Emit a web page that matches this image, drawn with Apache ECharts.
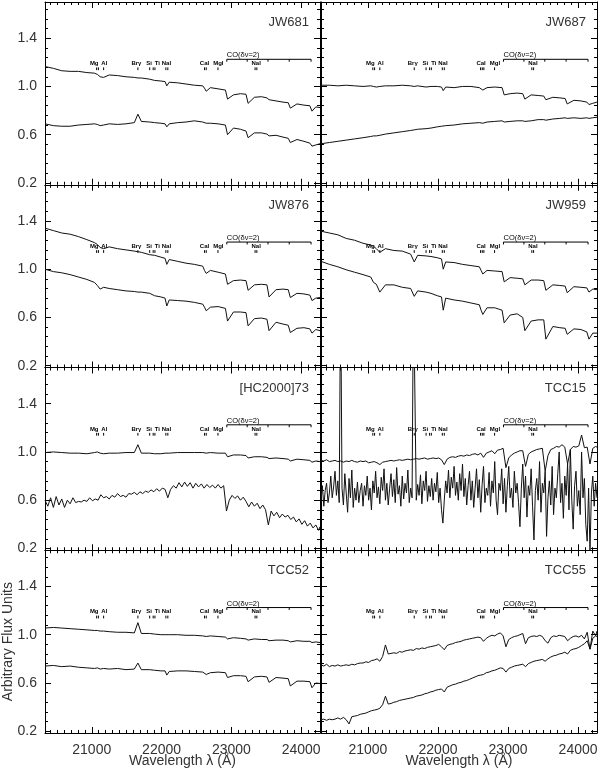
<!DOCTYPE html>
<html>
<head>
<meta charset="utf-8">
<script src="https://cdn.jsdelivr.net/npm/echarts@6/dist/echarts.min.js"></script>
<style>
  html, body { margin: 0; padding: 0; background: #fff; }
  #chart { width: 600px; height: 771px; }
</style>
</head>
<body>
<div id="chart"></div>
<script>
// wavelength grids (Angstrom)
const wl = [20330, 20450, 20570, 20690, 20810, 20930, 21040, 21080, 21120, 21170,
  21250, 21370, 21490, 21610, 21661, 21710, 21830, 21900, 21990, 22050,
  22075, 22110, 22230, 22350, 22470, 22590, 22615, 22640, 22700, 22810,
  22915, 22945, 23030, 23130, 23210, 23240, 23330, 23430, 23510, 23540,
  23640, 23740, 23815, 23845, 23940, 24040, 24125, 24155, 24210, 24270]
const wlDense = [20330, 20370, 20410, 20450, 20490, 20530, 20570, 20610, 20650, 20690,
  20730, 20770, 20810, 20850, 20890, 20930, 20970, 21010, 21050, 21090,
  21130, 21170, 21210, 21250, 21290, 21330, 21370, 21410, 21450, 21490,
  21530, 21570, 21610, 21650, 21690, 21730, 21770, 21810, 21850, 21890,
  21930, 21970, 22010, 22050, 22090, 22130, 22170, 22210, 22250, 22290,
  22330, 22370, 22410, 22450, 22490, 22530, 22570, 22610, 22650, 22690,
  22730, 22770, 22810, 22850, 22890, 22930, 22970, 23010, 23050, 23090,
  23130, 23170, 23210, 23250, 23290, 23330, 23370, 23410, 23450, 23490,
  23530, 23570, 23610, 23650, 23690, 23730, 23770, 23810, 23850, 23890,
  23930, 23970, 24010, 24050, 24090, 24130, 24170, 24210, 24250, 24270]
const wlFine = [20330, 20350, 20370, 20390, 20410, 20430, 20450, 20470, 20490, 20510,
  20530, 20550, 20570, 20590, 20610, 20630, 20650, 20670, 20690, 20710,
  20730, 20750, 20770, 20790, 20810, 20830, 20850, 20870, 20890, 20910,
  20930, 20950, 20970, 20990, 21010, 21030, 21050, 21070, 21090, 21110,
  21130, 21150, 21170, 21190, 21210, 21230, 21250, 21270, 21290, 21310,
  21330, 21350, 21370, 21390, 21410, 21430, 21450, 21470, 21490, 21510,
  21530, 21550, 21570, 21590, 21610, 21630, 21650, 21670, 21690, 21710,
  21730, 21750, 21770, 21790, 21810, 21830, 21850, 21870, 21890, 21910,
  21930, 21950, 21970, 21990, 22010, 22030, 22050, 22070, 22090, 22110,
  22130, 22150, 22170, 22190, 22210, 22230, 22250, 22270, 22290, 22310,
  22330, 22350, 22370, 22390, 22410, 22430, 22450, 22470, 22490, 22510,
  22530, 22550, 22570, 22590, 22610, 22630, 22650, 22670, 22690, 22710,
  22730, 22750, 22770, 22790, 22810, 22830, 22850, 22870, 22890, 22910,
  22930, 22950, 22970, 22990, 23010, 23030, 23050, 23070, 23090, 23110,
  23130, 23150, 23170, 23190, 23210, 23230, 23250, 23270, 23290, 23310,
  23330, 23350, 23370, 23390, 23410, 23430, 23450, 23470, 23490, 23510,
  23530, 23550, 23570, 23590, 23610, 23630, 23650, 23670, 23690, 23710,
  23730, 23750, 23770, 23790, 23810, 23830, 23850, 23870, 23890, 23910,
  23930, 23950, 23970, 23990, 24010, 24030, 24050, 24070, 24090, 24110,
  24130, 24150, 24170, 24190, 24210, 24230, 24250, 24270]

// fluxes on wl
const jw681Top = [1.165, 1.15, 1.13, 1.125, 1.125, 1.115, 1.11, 1.10, 1.08, 1.075,
  1.095, 1.09, 1.08, 1.075, 1.07, 1.07, 1.06, 1.05, 1.045, 1.04,
  1.005, 1.035, 1.03, 1.02, 1.01, 1.005, 0.985, 0.96, 0.99, 0.98,
  0.97, 0.895, 0.93, 0.94, 0.935, 0.86, 0.91, 0.915, 0.905, 0.89,
  0.88, 0.87, 0.865, 0.82, 0.855, 0.845, 0.84, 0.795, 0.83, 0.825]
const jw681Bot = [0.69, 0.675, 0.67, 0.67, 0.68, 0.685, 0.69, 0.685, 0.675, 0.68,
  0.69, 0.685, 0.69, 0.70, 0.77, 0.71, 0.705, 0.70, 0.695, 0.69,
  0.665, 0.69, 0.70, 0.705, 0.715, 0.705, 0.70, 0.695, 0.695, 0.69,
  0.68, 0.60, 0.655, 0.645, 0.63, 0.575, 0.615, 0.615, 0.605, 0.59,
  0.595, 0.58, 0.57, 0.535, 0.56, 0.545, 0.53, 0.505, 0.515, 0.525]
const jw687Top = [1.01, 1.01, 1.005, 1.01, 1.005, 1.0, 1.005, 1.0, 0.995, 1.0,
  1.005, 1.005, 1.01, 1.005, 1.0, 1.005, 0.995, 1.0, 1.0, 0.995,
  0.965, 0.995, 0.99, 1.0, 1.0, 0.99, 0.98, 0.97, 0.99, 0.995,
  0.99, 0.93, 0.94, 0.945, 0.94, 0.895, 0.93, 0.925, 0.92, 0.89,
  0.91, 0.905, 0.9, 0.855, 0.885, 0.88, 0.87, 0.85, 0.86, 0.87]
const jw687Bot = [0.525, 0.535, 0.545, 0.555, 0.565, 0.575, 0.585, 0.59, 0.59, 0.595,
  0.605, 0.615, 0.625, 0.635, 0.64, 0.645, 0.65, 0.655, 0.665, 0.67,
  0.665, 0.675, 0.68, 0.69, 0.695, 0.70, 0.70, 0.695, 0.705, 0.71,
  0.715, 0.705, 0.71, 0.715, 0.715, 0.71, 0.715, 0.725, 0.725, 0.72,
  0.73, 0.735, 0.74, 0.735, 0.74, 0.735, 0.74, 0.735, 0.74, 0.745]
const jw876Top = [1.34, 1.32, 1.30, 1.29, 1.27, 1.245, 1.22, 1.205, 1.18, 1.17,
  1.185, 1.17, 1.16, 1.15, 1.145, 1.14, 1.12, 1.115, 1.10, 1.09,
  1.04, 1.08, 1.065, 1.05, 1.04, 1.025, 0.99, 0.965, 0.99, 0.975,
  0.96, 0.875, 0.905, 0.91, 0.905, 0.825, 0.87, 0.875, 0.87, 0.77,
  0.83, 0.835, 0.83, 0.765, 0.80, 0.795, 0.785, 0.74, 0.76, 0.765]
const jw876Bot = [1.0, 0.98, 0.97, 0.955, 0.935, 0.915, 0.89, 0.865, 0.835, 0.85,
  0.84, 0.83, 0.82, 0.815, 0.81, 0.81, 0.80, 0.78, 0.77, 0.76,
  0.695, 0.745, 0.74, 0.735, 0.725, 0.71, 0.685, 0.655, 0.685, 0.69,
  0.675, 0.57, 0.645, 0.645, 0.64, 0.53, 0.59, 0.595, 0.585, 0.49,
  0.56, 0.545, 0.535, 0.475, 0.51, 0.515, 0.505, 0.47, 0.50, 0.49]
const jw959Top = [1.315, 1.30, 1.285, 1.255, 1.24, 1.215, 1.20, 1.19, 1.17, 1.14,
  1.17, 1.155, 1.15, 1.125, 1.06, 1.115, 1.11, 1.105, 1.095, 1.085,
  1.0, 1.06, 1.055, 1.04, 1.03, 1.02, 0.99, 0.96, 0.99, 0.985,
  0.98, 0.895, 0.93, 0.925, 0.92, 0.87, 0.91, 0.91, 0.905, 0.825,
  0.87, 0.865, 0.86, 0.805, 0.855, 0.85, 0.845, 0.81, 0.835, 0.83]
const jw959Bot = [1.065, 1.04, 1.02, 0.995, 0.975, 0.955, 0.935, 0.89, 0.875, 0.81,
  0.87, 0.87, 0.85, 0.84, 0.775, 0.82, 0.81, 0.80, 0.78, 0.77,
  0.66, 0.76, 0.745, 0.735, 0.72, 0.705, 0.66, 0.625, 0.68, 0.68,
  0.66, 0.555, 0.62, 0.63, 0.60, 0.49, 0.57, 0.58, 0.58, 0.42,
  0.525, 0.515, 0.51, 0.46, 0.505, 0.50, 0.48, 0.42, 0.47, 0.47]
const hcTop = [0.995, 1.0, 0.995, 0.99, 0.99, 0.985, 0.995, 1.0, 0.99, 0.985,
  0.99, 0.99, 0.995, 0.995, 1.06, 0.99, 0.99, 0.985, 0.985, 0.99,
  0.975, 0.99, 0.995, 0.995, 0.995, 0.995, 0.985, 0.99, 0.995, 0.99,
  0.99, 0.96, 0.975, 0.975, 0.97, 0.95, 0.96, 0.96, 0.955, 0.945,
  0.95, 0.945, 0.94, 0.925, 0.94, 0.935, 0.93, 0.915, 0.925, 0.92]
const tcc52Top = [1.055, 1.06, 1.055, 1.05, 1.045, 1.04, 1.035, 1.035, 1.03, 1.03,
  1.025, 1.02, 1.02, 1.015, 1.10, 1.01, 1.01, 1.005, 1.0, 1.0,
  0.99, 1.0, 1.0, 0.995, 0.995, 0.99, 0.985, 0.985, 0.99, 0.985,
  0.98, 0.965, 0.975, 0.97, 0.965, 0.955, 0.965, 0.96, 0.96, 0.95,
  0.955, 0.955, 0.95, 0.94, 0.95, 0.945, 0.945, 0.935, 0.94, 0.935]
const tcc52Bot = [0.74, 0.745, 0.735, 0.74, 0.73, 0.725, 0.72, 0.725, 0.715, 0.72,
  0.715, 0.72, 0.71, 0.715, 0.765, 0.71, 0.71, 0.705, 0.70, 0.70,
  0.665, 0.695, 0.70, 0.70, 0.695, 0.69, 0.675, 0.67, 0.685, 0.69,
  0.685, 0.645, 0.66, 0.66, 0.655, 0.61, 0.65, 0.655, 0.65, 0.605,
  0.645, 0.64, 0.635, 0.575, 0.615, 0.615, 0.61, 0.56, 0.60, 0.595]

// fluxes on wlDense (noisy spectra)
const hcBot = [0.60, 0.55, 0.62, 0.54, 0.63, 0.56, 0.61, 0.54, 0.60, 0.57,
  0.62, 0.58, 0.59, 0.585, 0.60, 0.59, 0.62, 0.595, 0.61, 0.60,
  0.645, 0.62, 0.63, 0.61, 0.64, 0.625, 0.655, 0.63, 0.64, 0.625,
  0.655, 0.65, 0.665, 0.645, 0.67, 0.655, 0.675, 0.665, 0.685, 0.67,
  0.695, 0.675, 0.70, 0.69, 0.62, 0.69, 0.72, 0.70, 0.745, 0.71,
  0.75, 0.715, 0.745, 0.70, 0.74, 0.71, 0.735, 0.70, 0.73, 0.705,
  0.725, 0.70, 0.73, 0.70, 0.72, 0.51, 0.60, 0.64, 0.615, 0.635,
  0.60, 0.625, 0.59, 0.545, 0.585, 0.55, 0.575, 0.53, 0.56, 0.52,
  0.395, 0.51, 0.47, 0.50, 0.455, 0.485, 0.46, 0.475, 0.44, 0.46,
  0.42, 0.445, 0.40, 0.43, 0.385, 0.41, 0.37, 0.395, 0.35, 0.38]
const tcc15Top = [0.93, 0.925, 0.935, 0.92, 0.925, 0.93, 0.92, 0.925, 0.915, 0.925,
  0.92, 0.93, 0.92, 0.915, 0.925, 0.92, 0.925, 0.91, 0.915, 0.92,
  0.91, 0.895, 0.915, 0.92, 0.925, 0.93, 0.925, 0.93, 0.935, 0.93,
  0.935, 0.94, 0.935, 0.94, 0.945, 0.94, 0.945, 0.95, 0.94, 0.945,
  0.95, 0.945, 0.95, 0.935, 0.895, 0.94, 0.955, 0.96, 0.955, 0.965,
  0.97, 0.965, 0.975, 0.97, 0.98, 0.985, 0.975, 0.99, 0.955, 0.99,
  1.0, 1.01, 0.985, 1.015, 1.02, 1.03, 0.87, 0.95, 0.975, 0.99,
  1.0, 1.01, 1.01, 0.88, 0.98, 1.0, 1.01, 1.02, 1.025, 1.03,
  0.84, 0.97, 1.02, 1.03, 1.045, 1.04, 1.06, 1.04, 0.90, 1.02,
  1.045, 1.04, 1.05, 1.14, 1.035, 1.04, 0.90, 1.03, 1.045, 1.04]
const tcc55Top = [0.75, 0.74, 0.755, 0.735, 0.745, 0.74, 0.75, 0.74, 0.745, 0.75,
  0.745, 0.755, 0.75, 0.76, 0.765, 0.765, 0.775, 0.77, 0.785, 0.79,
  0.80, 0.78, 0.82, 0.915, 0.84, 0.845, 0.85, 0.845, 0.86, 0.855,
  0.865, 0.87, 0.875, 0.87, 0.885, 0.88, 0.89, 0.885, 0.895, 0.90,
  0.905, 0.91, 0.92, 0.90, 0.875, 0.91, 0.92, 0.925, 0.935, 0.94,
  0.945, 0.955, 0.96, 0.965, 0.97, 0.975, 0.98, 0.975, 0.945, 0.97,
  0.985, 0.995, 0.99, 1.005, 1.015, 0.99, 0.90, 0.96, 0.975, 0.985,
  0.99, 1.0, 1.01, 0.925, 0.975, 0.985, 0.99, 0.985, 0.995, 0.985,
  0.95, 0.93, 0.975, 0.99, 0.985, 0.995, 0.99, 0.985, 0.95, 0.97,
  0.985, 0.99, 0.98, 0.995, 0.965, 1.02, 0.88, 1.03, 0.99, 1.03]
const tcc55Bot = [0.295, 0.30, 0.29, 0.30, 0.295, 0.30, 0.31, 0.30, 0.315, 0.295,
  0.26, 0.32, 0.325, 0.33, 0.34, 0.345, 0.35, 0.36, 0.37, 0.375,
  0.38, 0.39, 0.42, 0.49, 0.425, 0.43, 0.44, 0.445, 0.455, 0.46,
  0.465, 0.47, 0.475, 0.48, 0.49, 0.495, 0.50, 0.51, 0.515, 0.525,
  0.53, 0.54, 0.545, 0.55, 0.525, 0.565, 0.575, 0.585, 0.59, 0.60,
  0.605, 0.615, 0.62, 0.63, 0.64, 0.65, 0.66, 0.665, 0.67, 0.685,
  0.69, 0.70, 0.705, 0.715, 0.725, 0.72, 0.69, 0.72, 0.73, 0.74,
  0.745, 0.75, 0.755, 0.735, 0.76, 0.77, 0.78, 0.785, 0.79, 0.795,
  0.78, 0.80, 0.815, 0.825, 0.83, 0.84, 0.845, 0.855, 0.84, 0.87,
  0.88, 0.885, 0.895, 0.91, 0.925, 0.95, 0.88, 0.97, 0.99, 0.985]

// flux on wlFine (very noisy, with two spikes)
const tcc15Bot = [0.60, 0.72, 0.55, 0.68, 0.74, 0.58, 0.66, 0.80, 0.62, 0.71,
  0.84, 0.64, 0.76, 0.58, 2.4, 0.70, 0.56, 0.82, 0.66, 0.50,
  0.78, 0.62, 0.85, 0.54, 0.70, 0.60, 0.75, 0.58, 0.68, 0.74,
  0.55, 0.72, 0.64, 0.80, 0.60, 0.70, 0.52, 0.76, 0.66, 0.84,
  0.62, 0.71, 0.57, 0.79, 0.68, 0.86, 0.60, 0.74, 0.56, 0.70,
  0.82, 0.63, 0.77, 0.58, 0.87, 0.65, 0.72, 0.55, 0.80, 0.61,
  0.74, 0.66, 0.85, 0.58, 0.70, 0.62, 2.4, 2.4, 0.60, 0.73,
  0.64, 0.81, 0.57, 0.76, 0.68, 0.84, 0.59, 0.72, 0.63, 0.78,
  0.60, 0.74, 0.67, 0.83, 0.58, 0.70, 0.52, 0.41, 0.60, 0.76,
  0.66, 0.85, 0.62, 0.79, 0.70, 0.88, 0.64, 0.75, 0.60, 0.82,
  0.68, 0.90, 0.63, 0.78, 0.56, 0.72, 0.84, 0.60, 0.76, 0.54,
  0.70, 0.86, 0.62, 0.77, 0.50, 0.73, 0.88, 0.58, 0.70, 0.64,
  0.83, 0.55, 0.76, 0.66, 0.92, 0.60, 0.48, 0.74, 0.68, 0.86,
  0.57, 0.78, 0.50, 0.72, 0.88, 0.62, 0.70, 0.54, 0.84, 0.66,
  0.74, 0.58, 0.38, 0.70, 0.90, 0.62, 0.80, 0.46, 0.72, 0.64,
  0.86, 0.55, 0.27, 0.68, 0.78, 0.60, 0.92, 0.50, 0.74, 0.66,
  0.84, 0.30, 0.62, 0.76, 0.56, 0.88, 0.48, 0.70, 0.62, 0.82,
  1.00, 0.58, 0.74, 0.45, 0.80, 0.64, 0.90, 0.52, 1.02, 0.60,
  0.36, 0.72, 0.84, 0.55, 0.68, 0.48, 1.00, 0.62, 0.78, 0.40,
  0.26, 0.70, 0.18, 0.66, 0.80, 0.55, 0.74, 0.62]

// line identifications
const idNames = ['Mg', 'Al', 'Brγ', 'Si', 'Ti', 'NaI', 'CaI', 'MgI', 'NaI']
const idNameWl = [21035, 21180, 21640, 21820, 21940, 22070, 22615, 22813, 23355]
const idTickWlL = [21070, 21095, 21170, 21661, 21830, 21880, 21905, 22062, 22090, 22616, 22640, 22808, 23340, 23365]
const idTickWlR = [21070, 21095, 21170, 21661, 21830, 21880, 21905, 22062, 22090, 22608, 22632, 22655, 22808, 23340, 23365]
const coHeads = [22935, 23227, 23525, 23829, 24142]

// ticks
const xTicks = [21000, 22000, 23000, 24000]
const yTicks = [0.2, 0.6, 1.0, 1.4]
const yMinor = [0.28, 0.36, 0.44, 0.52, 0.68, 0.76, 0.84, 0.92, 1.08, 1.16, 1.24, 1.32, 1.48, 1.56, 1.64]
const xMinor = []
for (let v = 20400; v <= 24200; v += 100) if (v % 1000 !== 0) xMinor.push(v)

const panels = [
  { name: 'JW681', top: jw681Top, bot: jw681Bot, wt: wl, wb: wl },
  { name: 'JW687', top: jw687Top, bot: jw687Bot, wt: wl, wb: wl },
  { name: 'JW876', top: jw876Top, bot: jw876Bot, wt: wl, wb: wl },
  { name: 'JW959', top: jw959Top, bot: jw959Bot, wt: wl, wb: wl },
  { name: '[HC2000]73', top: hcTop, bot: hcBot, wt: wl, wb: wlDense },
  { name: 'TCC15', top: tcc15Top, bot: tcc15Bot, wt: wlDense, wb: wlFine },
  { name: 'TCC52', top: tcc52Top, bot: tcc52Bot, wt: wl, wb: wl },
  { name: 'TCC55', top: tcc55Top, bot: tcc55Bot, wt: wlDense, wb: wlDense }
]

const X_MIN = 20330
const X_MAX = 24270
const Y_MIN = 0.185
const Y_MAX = 1.70
const LBL_Y = 1.19
const TICK_Y1 = 1.158
const TICK_Y2 = 1.135
const BR_Y = 1.225
const BR_Y2 = 1.205
const CO_Y = 1.258

const colLeft = [45, 321]
const colWidth = [275, 276]
const rowTop = [2, 184.75, 367.5, 550.25]
const ROW_H = 182.75
const FONT = 'Liberation Sans, Arial, sans-serif'
const TXT = '#333'

const chart = echarts.init(document.getElementById('chart'))

const grids = []
const xAxes = []
const yAxes = []
const series = []
const titles = []

function axisBits (major, minor, pos) {
  const line = { show: true, onZero: false, lineStyle: { color: '#000', width: 1 } }
  return [
    { position: pos, axisLine: line, axisTick: { show: true, inside: true, length: 6, customValues: major, lineStyle: { color: '#000' } } },
    { position: pos, axisLine: { show: false }, axisTick: { show: true, inside: true, length: 3, customValues: minor, lineStyle: { color: '#000' } } }
  ]
}

function tickSeries (gi, wls, y1, y2) {
  return {
    type: 'custom', xAxisIndex: gi * 4, yAxisIndex: gi * 4, silent: true,
    data: wls.map(w => [w, y1, y2]),
    renderItem: (params, api) => {
      const a = api.coord([api.value(0), api.value(1)])
      const b = api.coord([api.value(0), api.value(2)])
      return { type: 'line', shape: { x1: a[0], y1: a[1], x2: b[0], y2: b[1] }, style: { stroke: '#000', lineWidth: 1 } }
    }
  }
}

function textSeries (gi, wls, y, names, align, font) {
  return {
    type: 'custom', xAxisIndex: gi * 4, yAxisIndex: gi * 4, silent: true,
    data: wls.map(w => [w, y]),
    renderItem: (params, api) => {
      const p = api.coord([api.value(0), api.value(1)])
      return { type: 'text', x: p[0], y: p[1], style: { text: names[params.dataIndex], fill: '#000', font: font, align: align, verticalAlign: 'middle' } }
    }
  }
}

panels.forEach((p, gi) => {
  const col = gi % 2
  const row = Math.floor(gi / 2)
  grids.push({ left: colLeft[col], top: rowTop[row], width: colWidth[col], height: ROW_H, outerBoundsMode: 'none' })

  const xb = { gridIndex: gi, type: 'value', min: X_MIN, max: X_MAX, splitLine: { show: false }, axisLabel: { show: false } }
  axisBits(xTicks, xMinor, 'bottom').concat(axisBits(xTicks, xMinor, 'top')).forEach((a, k) => {
    const ax = Object.assign({}, xb, a)
    if (k === 0 && row === 3) {
      ax.axisLabel = { show: true, customValues: xTicks, margin: 10, fontSize: 14, color: TXT, fontFamily: FONT, formatter: v => String(v) }
      ax.name = 'Wavelength λ (Å)'
      ax.nameLocation = 'middle'
      ax.nameGap = 21
      ax.nameMoveOverlap = false
      ax.nameTextStyle = { fontSize: 14, color: TXT, fontFamily: FONT }
    }
    xAxes.push(ax)
  })

  const yb = { gridIndex: gi, type: 'value', min: Y_MIN, max: Y_MAX, splitLine: { show: false }, axisLabel: { show: false } }
  axisBits(yTicks, yMinor, 'left').concat(axisBits(yTicks, yMinor, 'right')).forEach((a, k) => {
    const ax = Object.assign({}, yb, a)
    if (k === 0 && col === 0) {
      ax.axisLabel = { show: true, customValues: yTicks, margin: 8, fontSize: 14, color: TXT, fontFamily: FONT, formatter: v => v.toFixed(1) }
      if (row === 3) {
        ax.name = 'Arbitrary Flux Units'
        ax.nameLocation = 'middle'
        ax.nameGap = 30
        ax.nameMoveOverlap = false
        ax.nameTextStyle = { fontSize: 14, color: TXT, fontFamily: FONT }
      }
    }
    yAxes.push(ax)
  })

  titles.push({
    text: p.name, right: 600 - (colLeft[col] + colWidth[col]) + 11, top: rowTop[row] + 14, padding: 0,
    textStyle: { fontSize: 13, fontWeight: 'normal', color: TXT, fontFamily: FONT }
  })

  const lineStyle = { color: '#111', width: 1 }
  series.push({ type: 'line', xAxisIndex: gi * 4, yAxisIndex: gi * 4, symbol: 'none', lineStyle, data: p.wt.map((w, i) => [w, p.top[i]]) })
  series.push({ type: 'line', xAxisIndex: gi * 4, yAxisIndex: gi * 4, symbol: 'none', lineStyle, data: p.wb.map((w, i) => [w, p.bot[i]]) })

  // line identification marks
  series.push(tickSeries(gi, col === 0 ? idTickWlL : idTickWlR, TICK_Y1, TICK_Y2))
  series.push(textSeries(gi, idNameWl, LBL_Y, idNames, 'center', 'bold 6px ' + FONT))
  series.push(tickSeries(gi, coHeads, BR_Y, BR_Y2))
  series.push({
    type: 'line', xAxisIndex: gi * 4, yAxisIndex: gi * 4, symbol: 'none', silent: true,
    lineStyle: { color: '#000', width: 1 },
    data: [[coHeads[0], BR_Y], [coHeads[coHeads.length - 1], BR_Y]]
  })
  series.push(textSeries(gi, [coHeads[0]], CO_Y, ['CO(δν=2)'], 'left', '7.5px ' + FONT))
})

chart.setOption({
  backgroundColor: '#fff',
  animation: false,
  title: titles,
  grid: grids,
  xAxis: xAxes,
  yAxis: yAxes,
  series: series
})
</script>
</body>
</html>
